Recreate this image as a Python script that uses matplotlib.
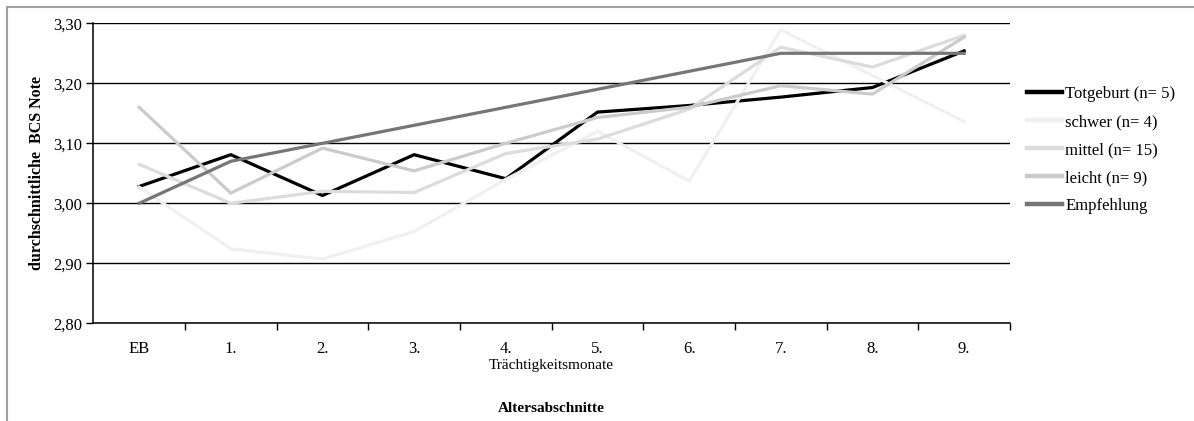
import numpy as np
import matplotlib
matplotlib.use("Agg")
import matplotlib.pyplot as plt
from matplotlib.lines import Line2D
from matplotlib.ticker import FuncFormatter

plt.rcParams['font.family'] = ['Liberation Serif', 'DejaVu Serif']

# Altersabschnitte und durchschnittliche BCS-Noten je Gruppe
monate = ['EB', '1.', '2.', '3.', '4.', '5.', '6.', '7.', '8.', '9.']
totgeburt = [3.028, 3.081, 3.013, 3.081, 3.041, 3.152, 3.163, 3.177, 3.193, 3.254]
schwer = [3.027, 2.924, 2.907, 2.953, 3.040, 3.120, 3.037, 3.289, 3.213, 3.136]
mittel = [3.065, 3.000, 3.020, 3.018, 3.083, 3.107, 3.157, 3.260, 3.227, 3.280]
leicht = [3.160, 3.017, 3.092, 3.054, 3.100, 3.143, 3.160, 3.196, 3.182, 3.277]
empfehlung = [3.00, 3.07, 3.10, 3.13, 3.16, 3.19, 3.22, 3.25, 3.25, 3.25]

reihen = [
    ('Totgeburt (n= 5)', totgeburt, '#000000'),
    ('schwer (n= 4)', schwer, '#f0f0f0'),
    ('mittel (n= 15)', mittel, '#dcdcdc'),
    ('leicht (n= 9)', leicht, '#cbcbcb'),
    ('Empfehlung', empfehlung, '#767676'),
]

fig = plt.figure(figsize=(11.94, 4.21), dpi=100)
ax = fig.add_axes([93.3 / 1194, 1 - 323.3 / 421, (1010 - 93.3) / 1194, 300 / 421])

x = np.arange(len(monate))
for name, werte, farbe in reihen:
    ax.plot(x, werte, color=farbe, lw=2.3, label=name, solid_joinstyle='miter')

ax.set_xlim(-0.5, len(monate) - 0.5)
ax.set_ylim(2.80, 3.30)
ax.set_yticks(np.arange(2.80, 3.31, 0.10))
ax.yaxis.set_major_formatter(FuncFormatter(lambda v, p: f'{v:.2f}'.replace('.', ',')))
ax.yaxis.grid(True, color='black', lw=1.0)
ax.set_axisbelow(True)

ax.set_xticks(x)
ax.set_xticklabels(monate)
ax.set_xticks(np.arange(0.5, len(monate), 1.0), minor=True)
ax.tick_params(axis='x', which='major', length=0, pad=13, labelsize=12)
ax.tick_params(axis='x', which='minor', length=5, width=1, direction='out')
ax.tick_params(axis='y', length=5, width=1, direction='out', labelsize=12, pad=3)

for s in ('top', 'right'):
    ax.spines[s].set_visible(False)
for s in ('left', 'bottom'):
    ax.spines[s].set_linewidth(1.1)

ax.set_ylabel('durchschnittliche  BCS Note', fontsize=11.5, fontweight='bold', labelpad=6)
fig.text(551.7 / 1194, 1 - 366 / 421, 'Trächtigkeitsmonate', ha='center', va='center', fontsize=11)
fig.text(551.7 / 1194, 1 - 408 / 421, 'Altersabschnitte', ha='center', va='center',
         fontsize=11, fontweight='bold')

leg = fig.legend(loc='upper left', bbox_to_anchor=(1027 / 1194, 1 - 86 / 421), frameon=False,
                 fontsize=12, handlelength=2.1, handletextpad=0.2, labelspacing=0.72,
                 borderaxespad=0, borderpad=0)
for h in leg.legend_handles:
    h.set_linewidth(3.2)

# Rahmen um die Grafik
fig.add_artist(Line2D([7 / 1194, 7 / 1194], [0, 1 - 7 / 421], transform=fig.transFigure,
                      color='#a0a0a0', lw=1.5))
fig.add_artist(Line2D([7 / 1194, 1], [1 - 7 / 421, 1 - 7 / 421], transform=fig.transFigure,
                      color='#a0a0a0', lw=1.5))

fig.savefig('out.png', dpi=100)
